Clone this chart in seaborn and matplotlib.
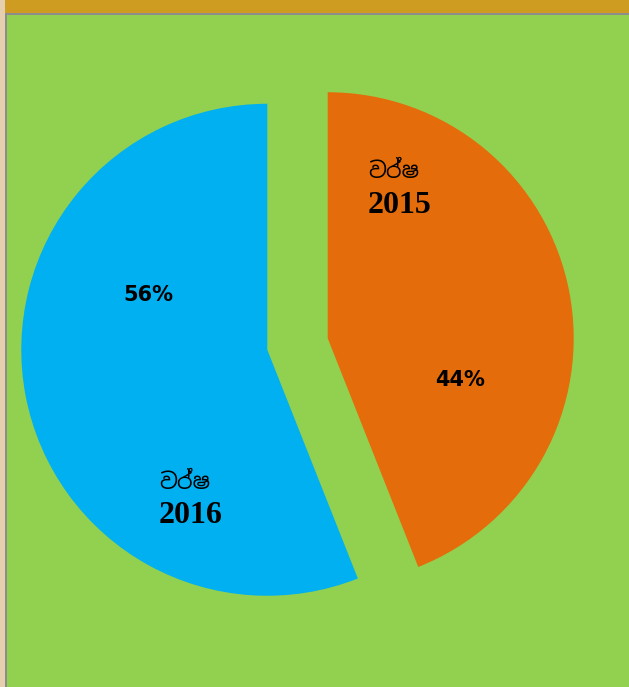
import matplotlib
matplotlib.use("Agg")
import matplotlib.pyplot as plt
import seaborn as sns
from matplotlib.patches import Rectangle

sns.set_style("white")
plt.rcParams['font.family'] = ['DejaVu Sans']
plt.rcParams['text.color'] = 'black'

# Data
years = ['2015', '2016']
shares = [44, 56]
pct_labels = ['44%', '56%']
word = 'වර්ෂ'
slice_colors = ['#e46c0a', '#00b0f0']

fig = plt.figure(figsize=(6.29, 6.87), dpi=100)
fig.patch.set_facecolor('#cf9c22')

# slide background pieces
fig.patches.append(Rectangle((0, 0), 5 / 629, 1, transform=fig.transFigure,
                             facecolor='#e6cfae', edgecolor='none', zorder=-10))
fig.patches.append(Rectangle((5 / 629, 0), 1, 1 - 13 / 687, transform=fig.transFigure,
                             facecolor='#8c8c8c', edgecolor='none', zorder=-10))
fig.patches.append(Rectangle((7 / 629, 0), 1, 1 - 15 / 687, transform=fig.transFigure,
                             facecolor='#92d050', edgecolor='none', zorder=-9))

# pie axes spanning the figure, scaled so 1 radius ~ 246 px
ax = fig.add_axes([0, 0, 1, 1])
ax.set_zorder(5)
ax.patch.set_alpha(0)
ax.pie(shares, colors=slice_colors, startangle=90, counterclock=False,
       explode=[0.125, 0.125], radius=1.0,
       wedgeprops=dict(linewidth=0))
ax.set_xlim(-1.2093, 1.3476)
ax.set_ylim(-1.3943, 1.3984)
ax.set_aspect('auto')
ax.axis('off')

# percentage labels
ax.text(0.660, -0.146, pct_labels[0], ha='center', va='center',
        fontsize=15, fontweight='bold', color='black')
ax.text(-0.608, 0.199, pct_labels[1], ha='center', va='center',
        fontsize=15, fontweight='bold', color='black')

# category labels
sinhala = ['Noto Sans Sinhala', 'Noto Serif Sinhala', 'Iskoola Pota', 'DejaVu Sans']
ax.text(0.287, 0.699, word, ha='left', va='center', fontsize=16,
        fontweight='bold', family=sinhala, color='black')
ax.text(0.287, 0.565, years[0], ha='left', va='center', fontsize=23,
        fontweight='bold', family=['Liberation Serif'], color='black')
ax.text(-0.563, -0.565, word, ha='left', va='center', fontsize=16,
        fontweight='bold', family=sinhala, color='black')
ax.text(-0.563, -0.699, years[1], ha='left', va='center', fontsize=23,
        fontweight='bold', family=['Liberation Serif'], color='black')

fig.savefig('out.png', dpi=100, facecolor=fig.get_facecolor())
